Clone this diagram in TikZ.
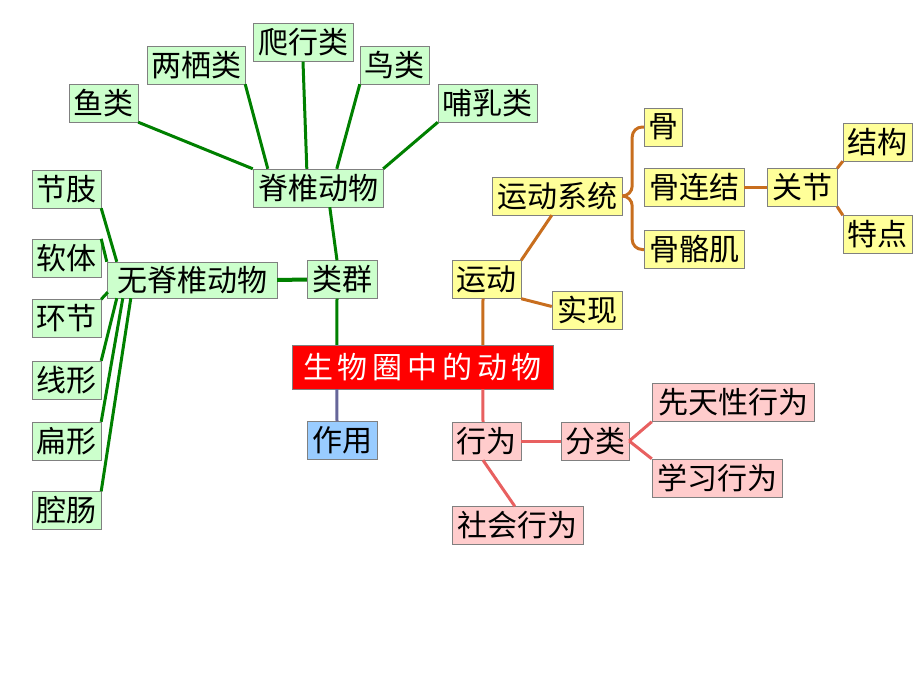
\documentclass[tikz,border=0pt]{standalone}
\usepackage{fontspec}
\usepackage{tikz}
\usetikzlibrary{calc}
\newfontfamily\cjk{Noto Sans CJK SC}
\newfontfamily\cjkwide[LetterSpace=16]{Noto Sans CJK SC}
\definecolor{boxgray}{RGB}{128,128,128}
\definecolor{fillgreen}{RGB}{204,255,204}
\definecolor{fillyellow}{RGB}{255,255,153}
\definecolor{fillpink}{RGB}{255,204,204}
\definecolor{fillblue}{RGB}{153,204,255}
\definecolor{linegreen}{RGB}{0,128,0}
\definecolor{lineorange}{RGB}{200,110,30}
\definecolor{linepink}{RGB}{232,96,96}
\definecolor{lineslate}{RGB}{102,102,153}

\begin{document}
\begin{tikzpicture}[x=1pt, y=-1pt,
		every node/.style={font=\cjk\fontsize{30}{30}\selectfont, draw=boxgray, inner sep=0pt, minimum height=38},
		gbox/.style={fill=fillgreen},
		ybox/.style={fill=fillyellow},
		pbox/.style={fill=fillpink},
		grn/.style={draw=linegreen, line width=3},
		org/.style={draw=lineorange, line width=3},
		pnk/.style={draw=linepink, line width=3}]
		\useasboundingbox (0,0) rectangle (920,690);
		
		\node[fill=red, text=white, minimum width=261, minimum height=44, font=\cjkwide\fontsize{30}{30}\selectfont] (main) at (422.5,367) {生物圈中的动物};
		
		% vertebrates
		\node[gbox, minimum width=69] (yu) at (103.5,103) {鱼类};
		\node[gbox, minimum width=98] (liangqi) at (196,65) {两栖类};
		\node[gbox, minimum width=100] (paxing) at (303,42.5) {爬行类};
		\node[gbox, minimum width=69] (niao) at (394.5,65) {鸟类};
		\node[gbox, minimum width=99] (buru) at (487.5,103) {哺乳类};
		\node[gbox, minimum width=130] (jizhui) at (318,188) {脊椎动物};
		
		% invertebrates
		\node[gbox, minimum width=69] (jiezhi) at (66.5,189) {节肢};
		\node[gbox, minimum width=69] (ruanti) at (66.5,258) {软体};
		\node[gbox, minimum width=69] (huanjie) at (66.5,318.5) {环节};
		\node[gbox, minimum width=69] (xianxing) at (66.5,380) {线形};
		\node[gbox, minimum width=69] (bianxing) at (66.5,441) {扁形};
		\node[gbox, minimum width=69] (qiangchang) at (66.5,510.5) {腔肠};
		\node[gbox, minimum width=170, minimum height=36] (wujizhui) at (192,280) {无脊椎动物};
		
		\node[gbox, minimum width=70] (leiqun) at (342,279.5) {类群};
		\node[fill=fillblue, minimum width=70] (zuoyong) at (342,440.5) {作用};
		
		% movement
		\node[ybox, minimum width=69] (yundong) at (486.5,279.5) {运动};
		\node[ybox, minimum width=70] (shixian) at (587,310.5) {实现};
		\node[ybox, minimum width=130] (ydxt) at (557,196) {运动系统};
		\node[ybox, minimum width=38] (gu) at (663,127) {骨};
		\node[ybox, minimum width=100] (gulianjie) at (694,187.5) {骨连结};
		\node[ybox, minimum width=100] (gugeji) at (694,249.5) {骨骼肌};
		\node[ybox, minimum width=70] (guanjie) at (802,187.5) {关节};
		\node[ybox, minimum width=69] (jiegou) at (877.5,142) {结构};
		\node[ybox, minimum width=69] (tedian) at (877.5,234.5) {特点};
		
		% behaviour
		\node[pbox, minimum width=69] (xingwei) at (486.5,441) {行为};
		\node[pbox, minimum width=68] (fenlei) at (595,441) {分类};
		\node[pbox, minimum width=131] (shehui) at (517.5,525.5) {社会行为};
		\node[pbox, minimum width=162] (xiantian) at (733,402.5) {先天性行为};
		\node[pbox, minimum width=130] (xuexi) at (717,478) {学习行为};
		
		\draw[grn] (yu.south east) -- (jizhui.north west);
		\draw[grn] (liangqi.south east) -- ($(jizhui.north west)+(15,0)$);
		\draw[grn] (paxing.south) -- ($(jizhui.north west)+(54,0)$);
		\draw[grn] (niao.south west) -- ($(jizhui.north west)+(84,0)$);
		\draw[grn] (buru.south west) -- (jizhui.north east);
		\draw[grn] ($(jizhui.south west)+(77,0)$) -- ($(leiqun.north)+(-5,0)$);
		\draw[grn, line width=4] (leiqun.west) -- (wujizhui.east);
		\draw[grn] ($(leiqun.south)+(-5,0)$) -- ($(main.north west)+(45,0)$);
		
		\draw[grn] (jiezhi.south east) -- ($(wujizhui.north west)+(10,0)$);
		\draw[grn] (ruanti.north east) -- (wujizhui.north west);
		\draw[grn] (huanjie.north east) -- ($(wujizhui.south west)+(1,-6)$);
		\draw[grn] (xianxing.north east) -- ($(wujizhui.south west)+(10,0)$);
		\draw[grn] (bianxing.north east) -- ($(wujizhui.south west)+(16,0)$);
		\draw[grn] (qiangchang.north east) -- ($(wujizhui.south west)+(24,0)$);
		
		\draw[draw=lineslate, line width=3] ($(main.south west)+(45,0)$) -- ($(zuoyong.north)+(-5,0)$);
		
		\draw[org] ($(main.north west)+(191,0)$) -- ($(yundong.south)+(-3.5,0)$);
		\draw[org] (yundong.north east) -- ($(ydxt.south west)+(60,0)$);
		\draw[org] (yundong.south east) -- ($(shixian.west)+(0,-4)$);
		\coordinate (tip) at ($(ydxt.east)+(10,0)$);
		\draw[org, rounded corners=10] (gu.west) -| (tip) -- (ydxt.east);
		\draw[org, rounded corners=10] (gugeji.west) -| (tip) -- (ydxt.east);
		\draw[org] (gulianjie.east) -- (guanjie.west);
		\draw[org] (guanjie.north east) -- (jiegou.south west);
		\draw[org] (guanjie.south east) -- (tedian.north west);
		
		\draw[pnk] ($(main.south west)+(191,0)$) -- ($(xingwei.north)+(-3.5,0)$);
		\draw[pnk] (xingwei.east) -- (fenlei.west);
		\draw[pnk] ($(xingwei.south)+(-3.5,0)$) -- ($(shehui.north west)+(63,0)$);
		\draw[pnk] (fenlei.east) -- (xiantian.south west);
		\draw[pnk] (fenlei.east) -- (xuexi.north west);
		
	\end{tikzpicture}
\end{document}
